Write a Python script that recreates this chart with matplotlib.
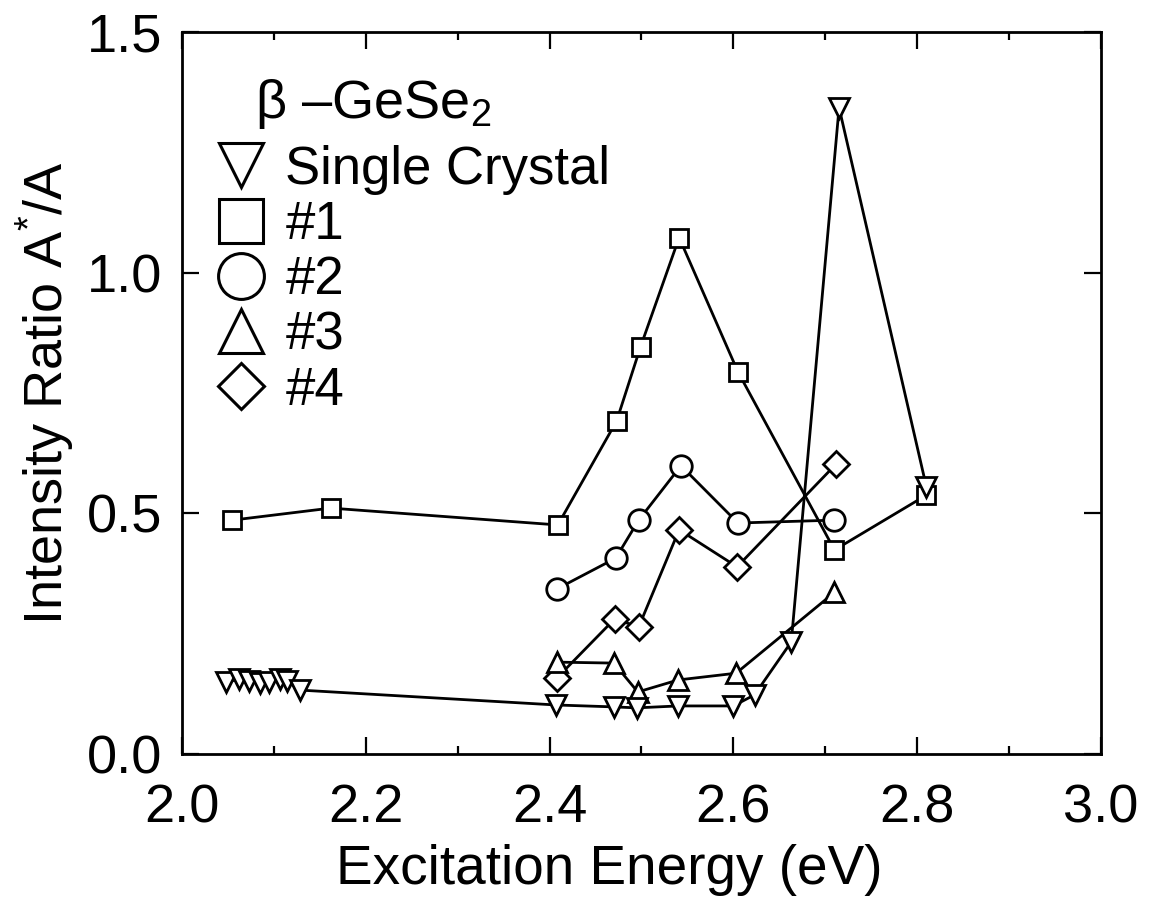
import matplotlib
matplotlib.use("Agg")
import matplotlib.pyplot as plt
from matplotlib.lines import Line2D
from matplotlib.ticker import MultipleLocator

plt.rcParams.update({
    "font.family": "Liberation Sans",
    "mathtext.fontset": "custom",
    "mathtext.rm": "Liberation Sans",
    "mathtext.it": "Liberation Sans",
    "font.size": 38,
})

# beta-GeSe2 intensity ratio A*/A vs excitation energy (eV)
single_x = [2.048, 2.062, 2.073, 2.085, 2.095, 2.107, 2.114, 2.128,
            2.407, 2.470, 2.495, 2.540, 2.600, 2.623, 2.663, 2.715, 2.810]
single_y = [0.150, 0.155, 0.152, 0.147, 0.150, 0.155, 0.152, 0.133,
            0.102, 0.098, 0.096, 0.100, 0.100, 0.123, 0.233, 1.343, 0.555]

s1_x = [2.055, 2.162, 2.409, 2.473, 2.499, 2.541, 2.605, 2.710, 2.810]
s1_y = [0.486, 0.511, 0.476, 0.692, 0.846, 1.073, 0.794, 0.424, 0.538]

s2_x = [2.408, 2.472, 2.497, 2.543, 2.605, 2.710]
s2_y = [0.343, 0.407, 0.486, 0.599, 0.480, 0.486]

s3_x = [2.408, 2.470, 2.496, 2.540, 2.603, 2.710]
s3_y = [0.191, 0.189, 0.129, 0.154, 0.168, 0.336]

s4_x = [2.408, 2.471, 2.497, 2.541, 2.604, 2.712]
s4_y = [0.158, 0.281, 0.264, 0.466, 0.389, 0.603]

fig = plt.figure(figsize=(11.51, 9.02), dpi=100)
ax = fig.add_axes([0.158, 0.164, 0.7986, 0.8005])

style = dict(color="black", lw=2.0, mfc="white", mec="black", mew=2.0)
ax.plot(s1_x, s1_y, marker="s", ms=13.5, **style)
ax.plot(s2_x, s2_y, marker="o", ms=15.5, **style)
ax.plot(s4_x, s4_y, marker="D", ms=13, **style)
ax.plot(s3_x, s3_y, marker="^", ms=14, **style)
ax.plot(single_x, single_y, marker="v", ms=14, **style)

ax.set_xlim(2.0, 3.0)
ax.set_ylim(0.0, 1.5)
ax.xaxis.set_major_locator(MultipleLocator(0.2))
ax.xaxis.set_minor_locator(MultipleLocator(0.1))
ax.yaxis.set_major_locator(MultipleLocator(0.5))
ax.xaxis.set_major_formatter(matplotlib.ticker.FormatStrFormatter("%.1f"))
ax.yaxis.set_major_formatter(matplotlib.ticker.FormatStrFormatter("%.1f"))
ax.tick_params(which="both", direction="in", top=True, right=True, width=1.6)
ax.tick_params(which="major", length=12, labelsize=39)
ax.tick_params(which="minor", length=6)
ax.tick_params(axis="x", pad=21)
ax.tick_params(axis="y", pad=14)
for sp in ax.spines.values():
    sp.set_linewidth(2.0)

ax.set_xlabel("Excitation Energy (eV)", fontsize=39.5)
ax.xaxis.set_label_coords(0.465, -0.125)
ax.set_ylabel("Intensity Ratio A$^{*}$/A", fontsize=39)
ax.yaxis.set_label_coords(-0.114, 0.5)

ax.text(0.08, 0.9, "β –GeSe$_2$", transform=ax.transAxes, fontsize=39,
        ha="left", va="center")

handles = [
    Line2D([], [], ls="none", marker="v", ms=32, mfc="white", mec="black", mew=2.2),
    Line2D([], [], ls="none", marker="s", ms=31, mfc="white", mec="black", mew=2.2),
    Line2D([], [], ls="none", marker="o", ms=33, mfc="white", mec="black", mew=2.2),
    Line2D([], [], ls="none", marker="^", ms=32, mfc="white", mec="black", mew=2.2),
    Line2D([], [], ls="none", marker="D", ms=23, mfc="white", mec="black", mew=2.2),
]
labels = ["Single Crystal", "#1", "#2", "#3", "#4"]
ax.legend(handles, labels, loc="upper left", bbox_to_anchor=(-0.005, 0.895),
          frameon=False, handlelength=1.0, handletextpad=0.35,
          labelspacing=0.1, borderaxespad=0.3, fontsize=38)

fig.savefig("out.png", dpi=100)
